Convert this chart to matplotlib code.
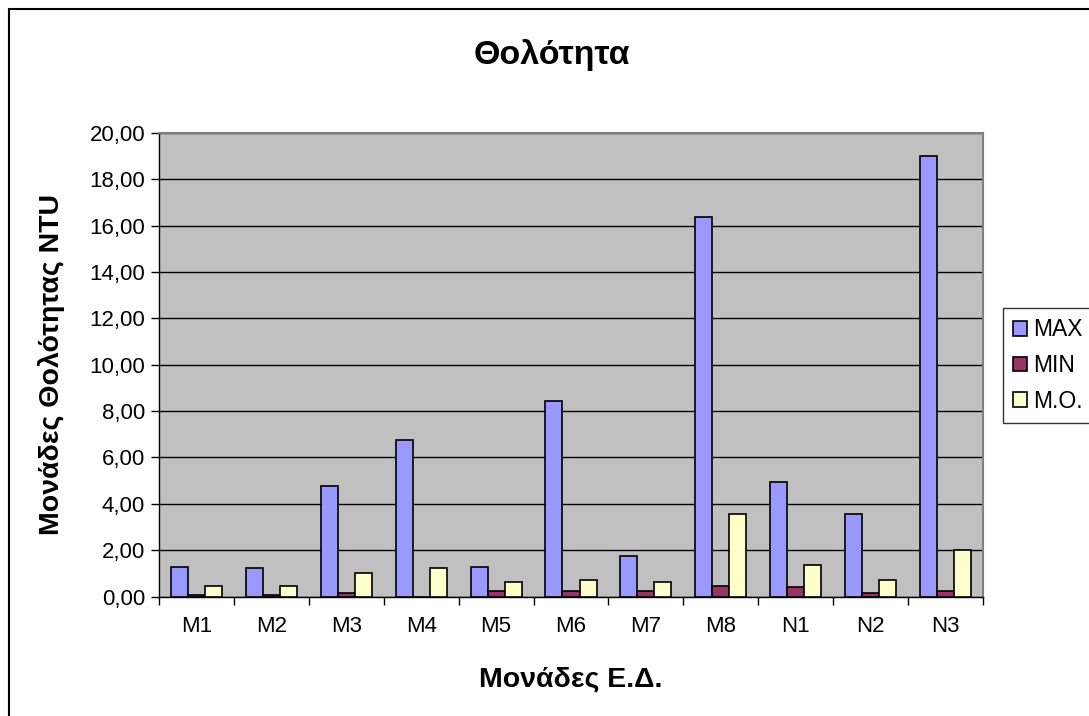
import numpy as np
import matplotlib.pyplot as plt
from matplotlib.patches import Rectangle
from matplotlib.ticker import FuncFormatter, FixedLocator

plt.rcParams['font.family'] = ['Liberation Sans', 'DejaVu Sans']

units = ['M1', 'M2', 'M3', 'M4', 'M5', 'M6', 'M7', 'M8', 'N1', 'N2', 'N3']
max_vals = [1.29, 1.22, 4.77, 6.75, 1.29, 8.43, 1.76, 16.37, 4.93, 3.55, 19.00]
min_vals = [0.07, 0.07, 0.14, 0.00, 0.23, 0.23, 0.23, 0.46, 0.39, 0.14, 0.23]
avg_vals = [0.46, 0.46, 1.00, 1.23, 0.61, 0.70, 0.61, 3.55, 1.37, 0.70, 1.99]

series = [('MAX', max_vals, '#9999FF'),
          ('MIN', min_vals, '#993366'),
          ('M.O.', avg_vals, '#FFFFCC')]

fig = plt.figure(figsize=(10.89, 7.16), dpi=100)
# chart frame (runs off the right and bottom edges)
fig.patches.append(Rectangle((9 / 1089, -0.05), 1.2, 1 - 9 / 716 + 0.05,
                             transform=fig.transFigure, fill=False,
                             edgecolor='black', linewidth=1.5))

ax = fig.add_axes([159 / 1089, 1 - 596.5 / 716, 824 / 1089, 463.5 / 716])
ax.set_facecolor('#C0C0C0')

x = np.arange(len(units))
w = 0.227
for i, (name, vals, col) in enumerate(series):
    ax.bar(x + (i - 1) * w, vals, width=w, color=col, edgecolor='black',
           linewidth=1.2, label=name, zorder=3)

ax.set_xlim(-0.5, len(units) - 0.5)
ax.set_ylim(0, 20)
ax.set_yticks(np.arange(0, 21, 2))
ax.yaxis.set_major_formatter(FuncFormatter(lambda v, p: f'{v:.2f}'.replace('.', ',')))
ax.yaxis.grid(True, color='black', linewidth=1)
ax.set_axisbelow(True)

ax.set_xticks(x)
ax.set_xticklabels(units)
ax.xaxis.set_minor_locator(FixedLocator(np.arange(-0.5, len(units), 1)))
ax.tick_params(axis='x', which='major', length=0, pad=14, labelsize=16)
ax.tick_params(axis='x', which='minor', length=6, width=1)
ax.tick_params(axis='y', length=6, width=1, labelsize=16, pad=4)

for s in ['top', 'right']:
    ax.spines[s].set_color('#808080')
    ax.spines[s].set_linewidth(1.5)
for s in ['left', 'bottom']:
    ax.spines[s].set_color('black')
    ax.spines[s].set_linewidth(1)

fig.text(552 / 1089, 1 - 55 / 716, 'Θολότητα', ha='center', va='center',
         fontsize=24.5, fontweight='bold')
fig.text(571 / 1089, 1 - 680 / 716, 'Μονάδες Ε.Δ.', ha='center', va='center',
         fontsize=20.5, fontweight='bold')
fig.text(52 / 1089, 1 - 364 / 716, 'Μονάδες Θολότητας NTU', ha='center',
         va='center', rotation=90, fontsize=20.5, fontweight='bold')

leg = ax.legend(loc='upper left', bbox_to_anchor=(1003 / 1089, 1 - 308 / 716),
                bbox_transform=fig.transFigure, frameon=True, fancybox=False,
                edgecolor='black', fontsize=16.5, handlelength=0.6,
                handleheight=0.6, handletextpad=0.25, borderpad=0.45,
                labelspacing=0.55, borderaxespad=0)
leg.get_frame().set_linewidth(1)

fig.savefig('out.png', dpi=100)
